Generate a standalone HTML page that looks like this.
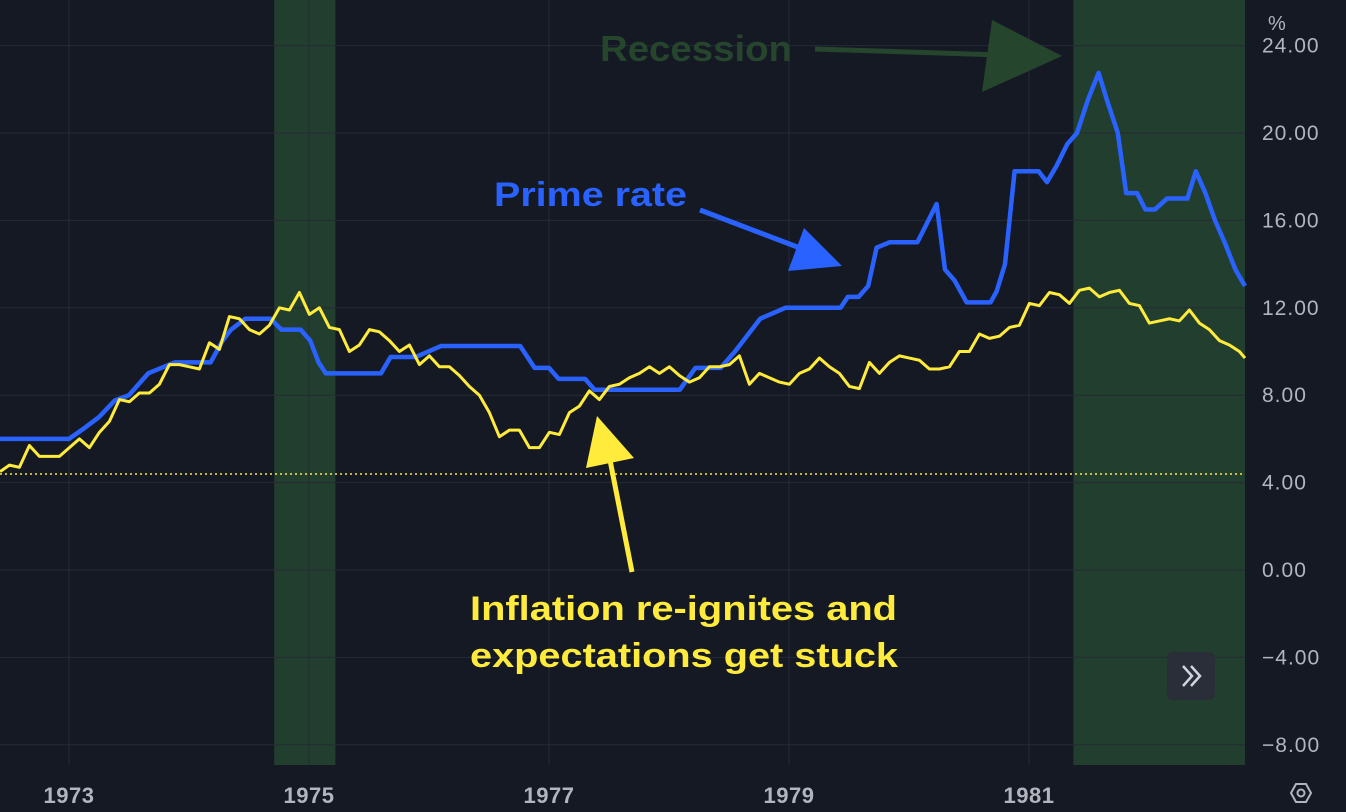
<!DOCTYPE html>
<html><head><meta charset="utf-8"><style>
html,body{margin:0;padding:0;background:#151924;overflow:hidden}
svg{display:block;font-family:"Liberation Sans",sans-serif}
</style></head><body>
<svg id="chart" width="1346" height="812" viewBox="0 0 1346 812">
<rect width="1346" height="812" fill="#151924"/>
<g id="bands"></g><g id="grid"></g><g id="axes"></g>
<line x1="0" x2="1245" y1="474" y2="474" stroke="#ffeb3b" stroke-width="1.5" stroke-dasharray="2,3"/>
<g id="series"></g>
<text x="600" y="61" font-size="36" font-weight="bold" fill="#25452d" textLength="192" lengthAdjust="spacingAndGlyphs">Recession</text>
<g><line x1="815" y1="49" x2="1000" y2="55" stroke="#25452d" stroke-width="5"/><polygon points="1062,56 982,92 992,20" fill="#25452d"/></g>
<text x="494" y="206" font-size="34" font-weight="bold" fill="#2962ff" textLength="193" lengthAdjust="spacingAndGlyphs">Prime rate</text>
<g><line x1="700" y1="210" x2="800" y2="248" stroke="#2962ff" stroke-width="5"/><polygon points="842,266 788,271 804,228" fill="#2962ff"/></g>
<g><line x1="632" y1="572" x2="610" y2="460" stroke="#ffeb3b" stroke-width="5"/><polygon points="597,416 586,468 634,458" fill="#ffeb3b"/></g>
<text font-size="34" font-weight="bold" fill="#ffeb3b"><tspan x="470" y="620" textLength="427" lengthAdjust="spacingAndGlyphs">Inflation re-ignites and</tspan><tspan x="470" y="667" textLength="428" lengthAdjust="spacingAndGlyphs">expectations get stuck</tspan></text>
<g><rect x="1167" y="652" width="48" height="48" rx="6" fill="#2a2e39"/><path d="M1183,666 l9,10 l-9,10 M1191,666 l9,10 l-9,10" stroke="#d1d4dc" stroke-width="2.5" fill="none"/></g>
<g><polygon points="1291,793 1296,784 1306,784 1311,793 1306,802 1296,802" fill="none" stroke="#b2b5be" stroke-width="2"/><circle cx="1301" cy="793" r="3.5" fill="none" stroke="#b2b5be" stroke-width="2"/></g>
<text x="1268" y="30" font-size="20" fill="#b2b5be">%</text>
</svg>
<script>
const yTicks=[24,20,16,12,8,4,0,-4,-8];
const xTickYears=[1973,1975,1977,1979,1981];
const recessions=[[1974.71,1975.22],[1981.37,1982.85]];
const primeDates=[1972.4,1973.0,1973.13,1973.25,1973.38,1973.5,1973.66,1973.88,1974.18,1974.28,1974.35,1974.47,1974.68,1974.77,1974.93,1975.01,1975.08,1975.14,1975.6,1975.68,1975.89,1976.1,1976.76,1976.88,1977.0,1977.08,1977.3,1977.38,1978.09,1978.22,1978.43,1978.55,1978.76,1978.97,1979.43,1979.49,1979.58,1979.66,1979.73,1979.84,1980.07,1980.23,1980.3,1980.38,1980.48,1980.68,1980.73,1980.8,1980.88,1981.08,1981.15,1981.23,1981.32,1981.4,1981.49,1981.58,1981.65,1981.74,1981.81,1981.9,1981.97,1982.05,1982.15,1982.32,1982.39,1982.47,1982.55,1982.63,1982.72,1982.8];
const primeValues=[6,6,6.5,7,7.75,8,9,9.5,9.5,10.5,11,11.5,11.5,11,11,10.5,9.5,9,9,9.75,9.75,10.25,10.25,9.25,9.25,8.75,8.75,8.25,8.25,9.25,9.25,10,11.5,12,12,12.5,12.5,13,14.75,15,15,16.75,13.75,13.25,12.25,12.25,12.75,14,18.25,18.25,17.75,18.5,19.5,20,21.5,22.75,21.5,20,17.25,17.25,16.5,16.5,17,17,18.25,17.25,16,15,13.75,13];
const inflationStart=1972.42; // monthly from here
const inflationValues=[4.5,4.8,4.7,5.7,5.2,5.2,5.2,5.6,6.0,5.6,6.3,6.8,7.8,7.7,8.1,8.1,8.5,9.4,9.4,9.3,9.2,10.4,10.1,11.6,11.5,11.0,10.8,11.2,12.0,11.9,12.7,11.7,12.0,11.1,11.0,10.0,10.3,11.0,10.9,10.5,10.0,10.3,9.4,9.8,9.3,9.3,8.9,8.4,8.0,7.2,6.1,6.4,6.4,5.6,5.6,6.3,6.2,7.2,7.5,8.2,7.8,8.4,8.5,8.8,9.0,9.3,9.0,9.3,8.9,8.6,8.8,9.3,9.3,9.4,9.8,8.5,9.0,8.8,8.6,8.5,9.0,9.2,9.7,9.3,9.0,8.4,8.3,9.5,9.0,9.5,9.8,9.7,9.6,9.2,9.2,9.3,10.0,10.0,10.8,10.6,10.7,11.1,11.2,12.2,12.1,12.7,12.6,12.2,12.8,12.9,12.5,12.7,12.8,12.2,12.1,11.3,11.4,11.5,11.4,11.9,11.3,11.0,10.5,10.3,10.0,9.7];
const NS='http://www.w3.org/2000/svg';
const xS=yr=>69+(yr-1973)*120;
const yS=v=>570-v*21.85;
function mk(t,a,p){const e=document.createElementNS(NS,t);for(const k in a)e.setAttribute(k,a[k]);p.appendChild(e);return e;}
const bands=document.getElementById('bands'),grid=document.getElementById('grid'),axes=document.getElementById('axes'),series=document.getElementById('series');
recessions.forEach(r=>{const x1=xS(r[0]),x2=Math.min(xS(r[1]),1245);
const e=mk('rect',{x:x1,y:0,width:x2-x1,height:765,fill:'#223e2e'},bands);

});
yTicks.forEach(v=>{const y=yS(v);
const l=mk('line',{x1:0,x2:1245,y1:y,y2:y,stroke:'#252a36','stroke-width':1},grid);


const t=mk('text',{x:1262,y:y+7,'font-size':21,fill:'#b2b5be','letter-spacing':1},axes);
t.textContent=(v<0?'\u2212'+Math.abs(v).toFixed(2):v.toFixed(2));

});
xTickYears.forEach(yr=>{const x=xS(yr);
const l=mk('line',{x1:x,x2:x,y1:0,y2:765,stroke:'#252a36','stroke-width':1},grid);


const t=mk('text',{x:x,y:803,'font-size':22,'font-weight':'bold',fill:'#b2b5be','text-anchor':'middle','letter-spacing':0.5},axes);
t.textContent=yr;

});
function clipPts(p){return p.map(q=>[Math.max(0,Math.min(1245,q[0])),q[1]]);}
const pp=clipPts(primeDates.map((d,i)=>[xS(d),yS(primeValues[i])]));
const p1=mk('polyline',{points:pp.map(p=>p.join(',')).join(' '),fill:'none',stroke:'#2962ff','stroke-width':4.5,'stroke-linejoin':'round'},series);


const ip=clipPts(inflationValues.map((v,i)=>[xS(inflationStart+i/12),yS(v)]));
const p2=mk('polyline',{points:ip.map(p=>p.join(',')).join(' '),fill:'none',stroke:'#ffeb3b','stroke-width':3,'stroke-linejoin':'round'},series);


</script>
</body></html>
